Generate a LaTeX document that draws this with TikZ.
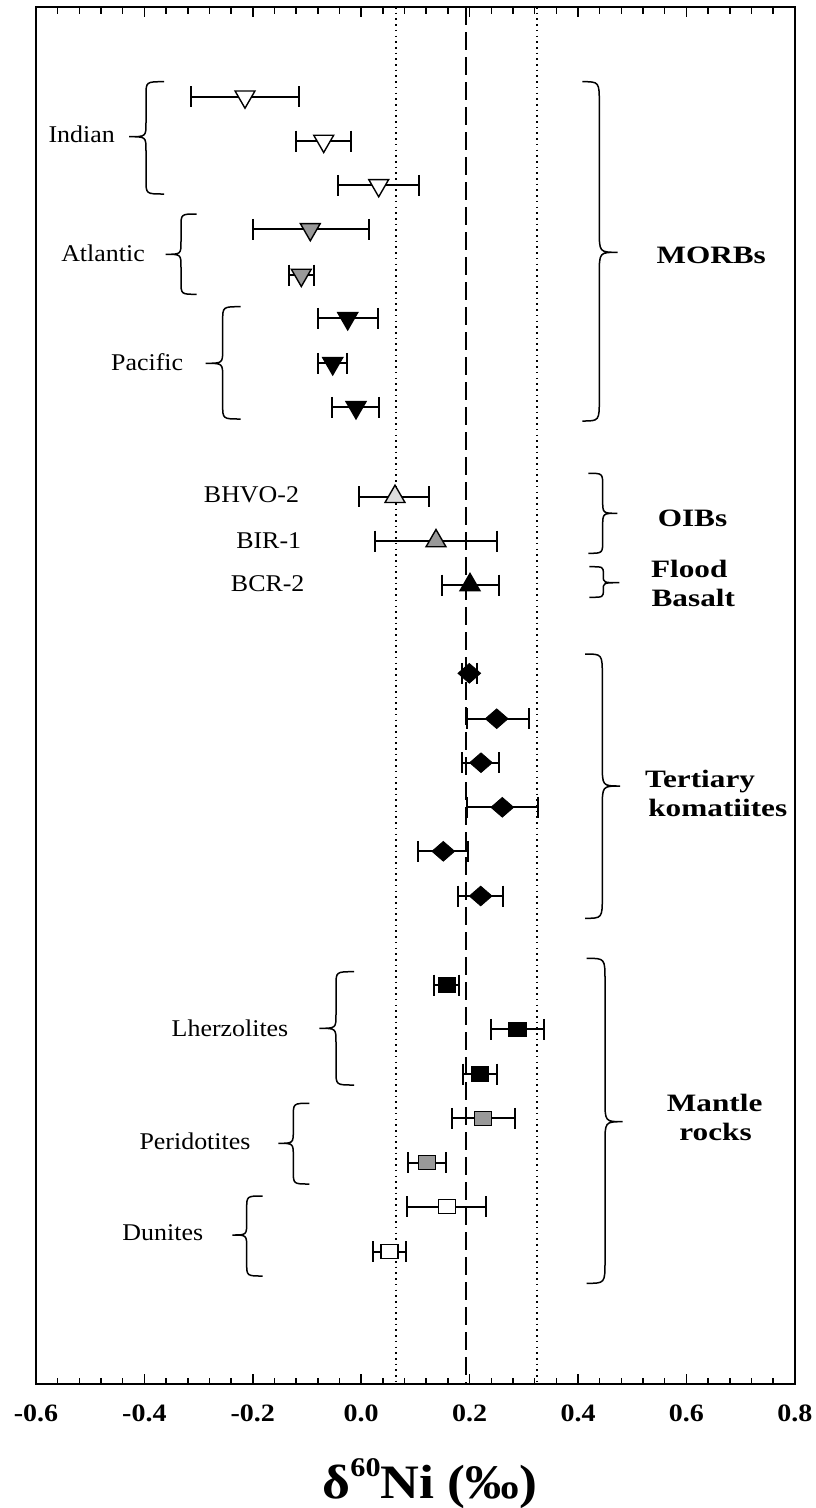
\documentclass[tikz,border=0pt]{standalone}
\usepackage{fontspec}
\setmainfont{Liberation Serif}
\newfontfamily\labf[FakeStretch=1.08]{Liberation Serif}
\newfontfamily\grpf[FakeStretch=1.25]{Liberation Serif Bold}
\newfontfamily\tickf[FakeStretch=1.12]{Liberation Serif Bold}
\newfontfamily\titf[FakeStretch=1.12]{Liberation Serif Bold}
\usetikzlibrary{shapes.geometric}
\definecolor{midgray}{gray}{0.6}
\definecolor{lightgr}{gray}{0.87}
\tikzset{
  frame/.style={line width=2pt},
  tickmark/.style={line width=1.5pt},
  refdash/.style={line width=2pt, dash pattern=on 18pt off 7pt},
  refdot/.style={line width=1.8pt, dash pattern=on 1.6pt off 4.1pt},
  ebar/.style={line width=1.8pt},
  bracestyle/.style={line width=1.5pt},
  mk/.style={draw, line width=1.4pt, inner sep=0pt},
  tdn/.style={mk, regular polygon, regular polygon sides=3, shape border rotate=180, minimum size=23pt},
  tup/.style={mk, regular polygon, regular polygon sides=3, minimum size=23pt},
  dia/.style={mk, diamond, minimum width=23pt, minimum height=20pt, fill=black, line width=0.8pt},
  sq/.style={mk, rectangle, minimum width=17pt, minimum height=14pt},
  lab/.style={anchor=base, inner sep=0pt, font=\labf\fontsize{24}{24}\selectfont},
  grp/.style={anchor=base, inner sep=0pt, font=\grpf\fontsize{25}{25}\selectfont},
  ticklab/.style={anchor=base, inner sep=0pt, font=\tickf\fontsize{25}{25}\selectfont},
}
% name, y, xlo, x, xhi, marker style
\newcommand\datum[6]{%
  \draw[ebar] ({#3},{#2-10.5}) -- ({#3},{#2+10.5}) ({#3},{#2}) -- ({#5},{#2}) ({#5},{#2-10.5}) -- ({#5},{#2+10.5});
  \node[#6] (#1) at ({#4},{#2}) {};}
% xends, xspine, xtip, ytop, ymid, ybot, curl
\newcommand\brc[7]{%
  \draw[bracestyle] ({#1},{#4}) .. controls ({#2},{#4}) and ({#2},{#4}) .. ({#2},{#4+#7})
    -- ({#2},{#5-#7}) .. controls ({#2},{#5}) and ({#2},{#5}) .. ({#3},{#5})
    .. controls ({#2},{#5}) and ({#2},{#5}) .. ({#2},{#5+#7})
    -- ({#2},{#6-#7}) .. controls ({#2},{#6}) and ({#2},{#6}) .. ({#1},{#6});}
\begin{document}
\begin{tikzpicture}[x=1pt,y=-1pt]
\useasboundingbox[fill=white] (0,0) rectangle (815,1508);
% reference lines
\draw[refdot] (395.7,7) -- (395.7,1384.3);
\draw[refdot] (536.7,7) -- (536.7,1384.3);
\draw[refdash] (466,7) -- (466,1384.3);
% frame and ticks
\draw[frame] (36,7) rectangle (795,1384.3);
\foreach \k in {1,...,34}{
  \draw[tickmark] ({36+\k*21.68},1384.3) -- ++(0,-6);
  \draw[tickmark] ({36+\k*21.68},7) -- ++(0,7);
}
\foreach \k in {5,10,...,30}{
  \draw[tickmark] ({36+\k*21.68},1384.3) -- ++(0,-10);
  \draw[tickmark] ({36+\k*21.68},7) -- ++(0,10);
}
\foreach \k/\t in {0/-0.6,1/-0.4,2/-0.2,3/0.0,4/0.2,5/0.4,6/0.6,7/0.8}{
  \node[ticklab] (tl\k) at ({36+\k*108.4},1421.7) {\t};
}
\node[anchor=base, inner sep=0pt, font=\titf\fontsize{48}{48}\selectfont] (title) at (430,1498.3)
  {δ\raisebox{22pt}{\fontsize{27}{27}\selectfont 60}Ni (‰)};
% MORBs
\datum{in1}{96.7}{191}{245}{299.3}{tdn, fill=white}
\datum{in2}{141}{296.3}{323.7}{350.7}{tdn, fill=white}
\datum{in3}{185.3}{337.7}{378.7}{419.3}{tdn, fill=white}
\datum{at1}{229.3}{253}{310.3}{368.7}{tdn, fill=midgray}
\datum{at2}{275}{289}{301.3}{313.7}{tdn, fill=midgray}
\datum{pa1}{318.3}{318.3}{347.7}{378}{tdn, fill=black}
\datum{pa2}{363.3}{318.3}{332.7}{346.7}{tdn, fill=black}
\datum{pa3}{407.3}{331.7}{356}{379.3}{tdn, fill=black}
% OIBs and flood basalt
\datum{bhvo}{496.7}{359.3}{395}{429.3}{tup, fill=lightgr}
\datum{bir}{541}{375.3}{436}{497.3}{tup, fill=midgray}
\datum{bcr}{585}{442}{470}{499.3}{tup, fill=black}
% komatiites
\datum{k1}{673.3}{462.3}{469.3}{476.7}{dia}
\datum{k2}{718.7}{466.7}{496.7}{529}{dia}
\datum{k3}{762.7}{462.3}{481}{499}{dia}
\datum{k4}{807.3}{466.7}{502.3}{538.3}{dia}
\datum{k5}{851.3}{417.7}{443.3}{468.3}{dia}
\datum{k6}{896}{457.7}{480.7}{503.3}{dia}
% mantle rocks
\datum{lh1}{985}{434.3}{446.7}{459.3}{sq, fill=black}
\datum{lh2}{1029.3}{490.7}{517.3}{544.3}{sq, fill=black}
\datum{lh3}{1074}{463.3}{480}{496.7}{sq, fill=black}
\datum{pe1}{1118.3}{451.7}{482.7}{515}{sq, fill=midgray}
\datum{pe2}{1162.7}{408.3}{426.7}{445.7}{sq, fill=midgray}
\datum{du1}{1206.7}{407.3}{446.7}{485.7}{sq, fill=white}
\datum{du2}{1251.7}{373.3}{389.3}{405.7}{sq, fill=white}
% left braces and labels
\brc{164}{146}{129}{81.7}{136.7}{194}{14}
\node[lab] (indian) at (81.7,142.7) {Indian};
\brc{196.7}{181}{165.7}{214}{254.3}{294.3}{13}
\node[lab] (atlantic) at (103,261) {Atlantic};
\brc{240.7}{222.7}{205.7}{306.7}{363.3}{419}{14}
\node[lab] (pacific) at (147.2,370) {Pacific};
\node[lab] (lbhvo) at (251.5,502.7) {BHVO-2};
\node[lab] (lbir) at (268.7,548.3) {BIR-1};
\node[lab] (lbcr) at (267.7,591.7) {BCR-2};
\brc{354}{336}{319.3}{971.7}{1028.3}{1085}{14}
\node[lab] (lherz) at (230,1036.7) {Lherzolites};
\brc{309.3}{293.3}{278.3}{1103.3}{1143.3}{1184}{13}
\node[lab] (perid) at (195,1149.3) {Peridotites};
\brc{262.7}{246.7}{232.3}{1196}{1235}{1276}{13}
\node[lab] (dunite) at (162.8,1240.7) {Dunites};
% right braces and group labels
\brc{582.3}{599.3}{617.7}{81.7}{252.3}{421}{22}
\node[grp] (morbs) at (711.2,263.3) {MORBs};
\brc{588.3}{602.7}{617.3}{473.3}{513.3}{553.3}{13}
\node[grp] (oibs) at (692.5,526.7) {OIBs};
\brc{589.3}{603.3}{619.3}{566.7}{582.7}{597.3}{7}
\node[grp] (flood) at (689.2,577.3) {Flood};
\node[grp] (basalt) at (693.3,606.7) {Basalt};
\brc{585}{602.3}{620}{654}{786}{918.3}{22}
\node[grp] (tert) at (700,787.3) {Tertiary};
\node[grp] (komat) at (717.8,816) {komatiites};
\brc{586.7}{605}{622.7}{958.3}{1121.7}{1283.3}{22}
\node[grp] (mantle) at (714.7,1111.7) {Mantle};
\node[grp] (rocks) at (715.5,1140) {rocks};
\end{tikzpicture}
\end{document}
